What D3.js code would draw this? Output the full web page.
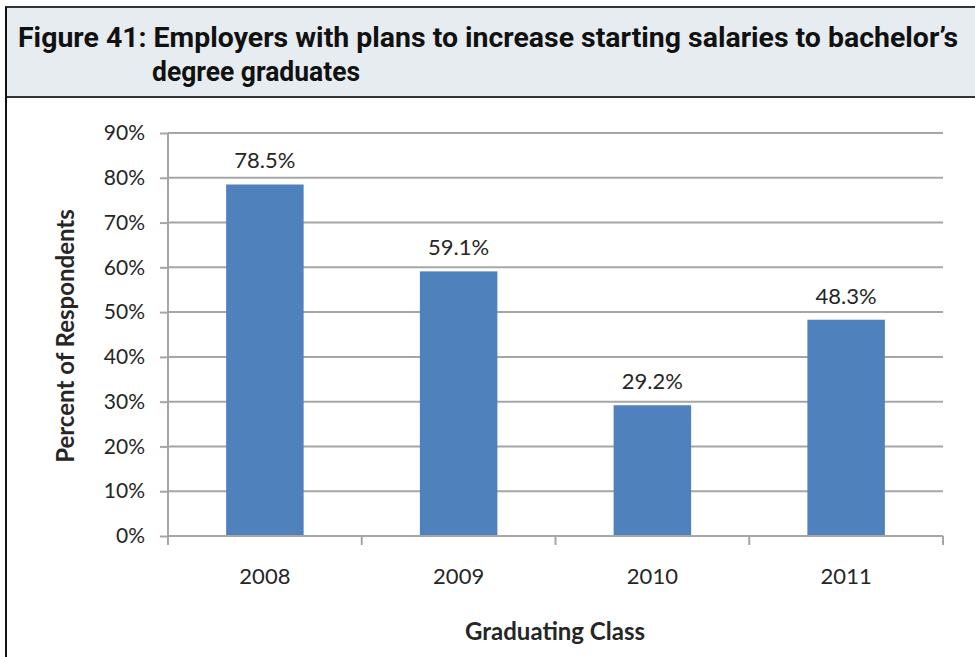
<!DOCTYPE html>
<html lang="en">
<head>
<meta charset="UTF-8">
<title>Figure 41</title>
<script src="https://d3js.org/d3.v7.min.js"></script>
<style>
  body { margin: 0; background: #fff; }
  svg { display: block; }
</style>
</head>
<body>
<svg id="chart" width="975" height="657"></svg>
<script>
// data
const years = ["2008", "2009", "2010", "2011"];
const percents = [78.5, 59.1, 29.2, 48.3];
const yTicks = [0, 10, 20, 30, 40, 50, 60, 70, 80, 90];
const titleLines = ["Figure 41: Employers with plans to increase starting salaries to bachelor\u2019s", "degree graduates"];

const svg = d3.select("#chart");
const labelFont = "Lato, 'Open Sans', sans-serif";
const titleFont = "Roboto, 'Liberation Sans', sans-serif";
const textCol = "#262626";

// header box
svg.append("rect").attr("x", 6).attr("y", 7).attr("width", 975).attr("height", 90)
  .attr("fill", "#e6ecef").attr("stroke", "#333").attr("stroke-width", 2);
// left frame line
svg.append("line").attr("x1", 6).attr("x2", 6).attr("y1", 7).attr("y2", 657)
  .attr("stroke", "#111").attr("stroke-width", 2);

// title, squeezed to the condensed width of the original face
svg.append("text").attr("x", 18).attr("y", 47).text(titleLines[0])
  .attr("textLength", 940).attr("lengthAdjust", "spacingAndGlyphs")
  .attr("font-family", titleFont).attr("font-weight", "bold").attr("font-size", 28).attr("fill", "#111");
svg.append("text").attr("x", 152).attr("y", 81).text(titleLines[1])
  .attr("textLength", 208).attr("lengthAdjust", "spacingAndGlyphs")
  .attr("font-family", titleFont).attr("font-weight", "bold").attr("font-size", 28).attr("fill", "#111");

// plot area
const plotL = 168, plotR = 943, plotT = 133, plotB = 536;
const x = d3.scaleBand().domain(years).range([plotL, plotR]).paddingInner(0.6).paddingOuter(0.3);
const y = d3.scaleLinear().domain([0, 90]).range([plotB, plotT]);

// gridlines
svg.append("g").selectAll("line").data(yTicks.filter(d => d > 0)).join("line")
  .attr("x1", plotL).attr("x2", plotR).attr("y1", d => y(d)).attr("y2", d => y(d))
  .attr("stroke", "#a6a6a6").attr("stroke-width", 2);

// bars
svg.append("g").selectAll("rect").data(percents).join("rect")
  .attr("x", (d, i) => x(years[i])).attr("width", x.bandwidth())
  .attr("y", d => y(d)).attr("height", d => y(0) - y(d))
  .attr("fill", "#4f81bd");

// value labels
svg.append("g").selectAll("text").data(percents).join("text")
  .attr("x", (d, i) => x(years[i]) + x.bandwidth() / 2).attr("y", d => y(d) - 16)
  .attr("text-anchor", "middle").attr("font-family", labelFont).attr("font-size", 22).attr("fill", textCol)
  .text(d => d.toFixed(1) + "%");

// y axis
const yAxis = svg.append("g").attr("transform", `translate(${plotL},0)`)
  .call(d3.axisLeft(y).tickValues(yTicks).tickSize(8).tickPadding(15).tickFormat(d => d + "%"));
yAxis.select(".domain").attr("stroke", "#a6a6a6").attr("stroke-width", 2).attr("d", `M0,${plotT}V${plotB + 9}`);
yAxis.selectAll(".tick line").attr("stroke", "#a6a6a6").attr("stroke-width", 2);
yAxis.selectAll(".tick text").attr("font-family", labelFont).attr("font-size", 21).attr("fill", textCol);

// x axis
const xAxis = svg.append("g").attr("transform", `translate(0,${plotB})`)
  .call(d3.axisBottom(x).tickSize(0).tickPadding(32));
xAxis.select(".domain").attr("stroke", "#a6a6a6").attr("stroke-width", 2).attr("d", `M${plotL},0H${plotR}`);
xAxis.selectAll(".tick text").attr("font-family", labelFont).attr("font-size", 22).attr("fill", textCol);
// category boundary ticks
const step = (plotR - plotL) / years.length;
xAxis.append("g").selectAll("line").data(d3.range(years.length + 1)).join("line")
  .attr("x1", i => plotL + i * step).attr("x2", i => plotL + i * step)
  .attr("y1", 0).attr("y2", 9).attr("stroke", "#a6a6a6").attr("stroke-width", 2);

// axis titles
svg.append("text").attr("x", 555).attr("y", 640).attr("text-anchor", "middle")
  .attr("font-family", labelFont).attr("font-weight", "bold").attr("font-size", 24).attr("fill", textCol)
  .text("Graduating Class");
svg.append("text").attr("transform", "translate(74,336) rotate(-90)").attr("text-anchor", "middle")
  .attr("font-family", labelFont).attr("font-weight", "bold").attr("font-size", 24).attr("fill", textCol)
  .text("Percent of Respondents");
</script>
</body>
</html>
